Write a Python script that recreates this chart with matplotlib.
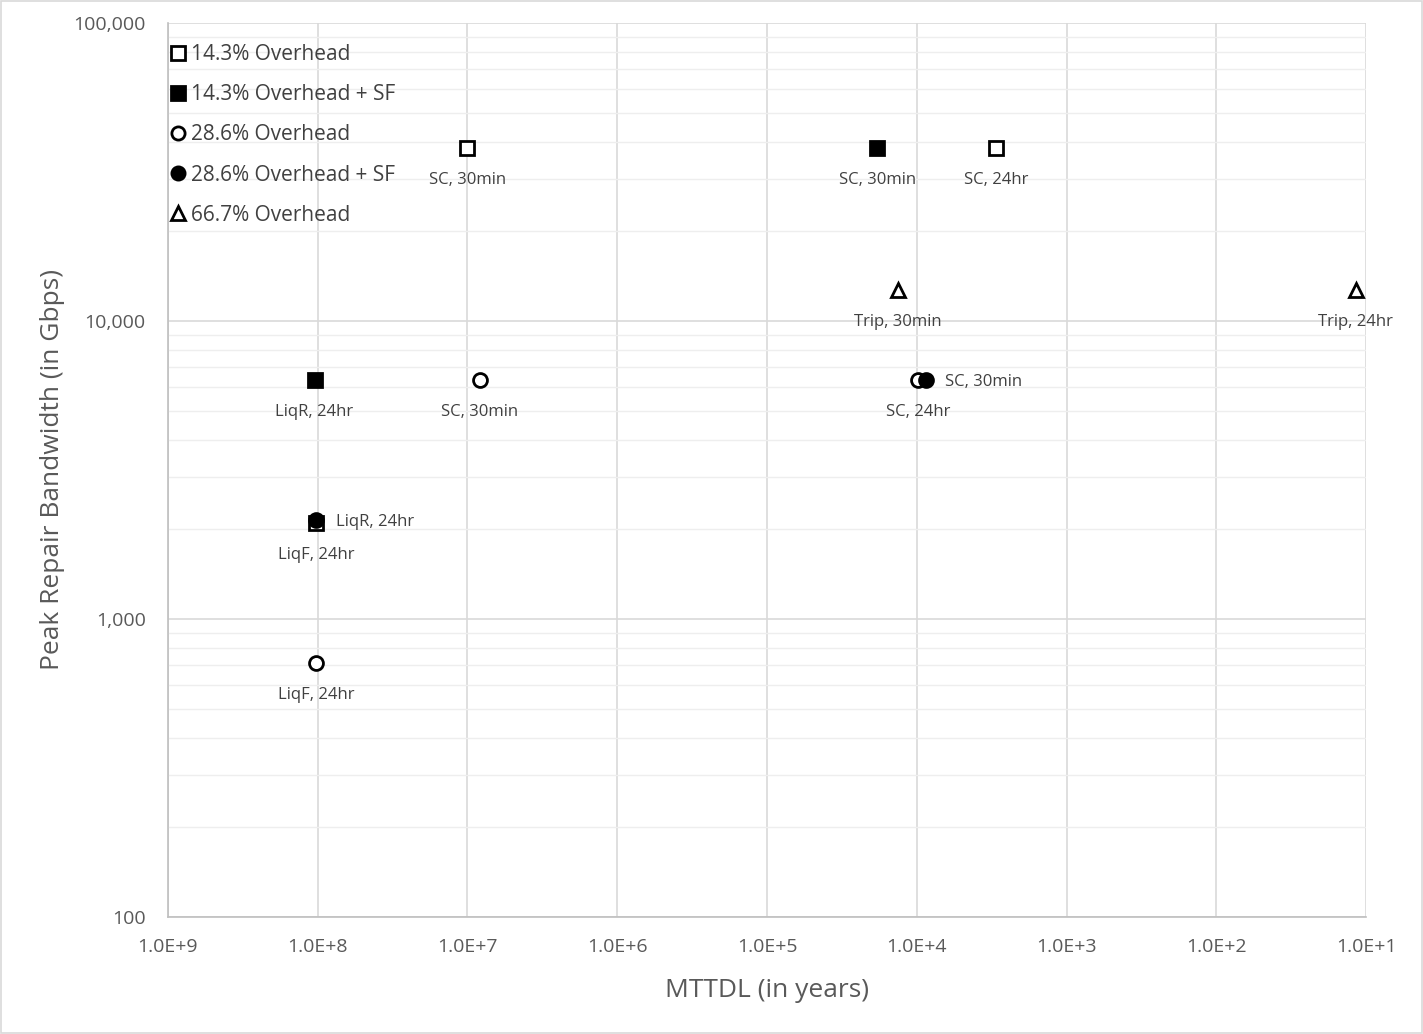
import numpy as np
import matplotlib.pyplot as plt
from matplotlib.ticker import FixedLocator, FuncFormatter, LogLocator, NullFormatter

plt.rcParams['font.family'] = ['Open Sans', 'DejaVu Sans']

# series: MTTDL (years), peak repair bandwidth (Gbps), point labels
sq_open_x = [1.0e7, 2.95e3, 1.02e8]
sq_open_y = [38000, 38000, 2100]
sq_open_lab = ['SC, 30min', 'SC, 24hr', 'LiqF, 24hr']

sq_fill_x = [1.84e4, 1.05e8]
sq_fill_y = [38000, 6340]
sq_fill_lab = ['SC, 30min', 'LiqR, 24hr']

ci_open_x = [8.26e6, 9.77e3, 1.03e8]
ci_open_y = [6340, 6340, 712]
ci_open_lab = ['SC, 30min', 'SC, 24hr', 'LiqF, 24hr']

ci_fill_x = [8.67e3, 1.02e8]
ci_fill_y = [6340, 2150]
ci_fill_lab = ['SC, 30min', 'LiqR, 24hr']

tri_x = [1.33e4, 11.7]
tri_y = [12700, 12700]
tri_lab = ['Trip, 30min', 'Trip, 24hr']

x_ticks = [1e9, 1e8, 1e7, 1e6, 1e5, 1e4, 1e3, 1e2, 1e1]

fig = plt.figure(figsize=(14.23, 10.34), dpi=100)
ax = fig.add_axes([0.118, 0.1132, 0.842, 0.8646])

ms = 10
mew = 2
ax.plot(sq_open_x, sq_open_y, 's', ms=ms, mfc='white', mec='black', mew=mew,
        label='14.3% Overhead', zorder=3)
ax.plot(sq_fill_x, sq_fill_y, 's', ms=ms, mfc='black', mec='black', mew=mew,
        label='14.3% Overhead + SF', zorder=3)
ax.plot(ci_open_x, ci_open_y, 'o', ms=ms, mfc='white', mec='black', mew=mew,
        label='28.6% Overhead', zorder=3)
ax.plot(ci_fill_x, ci_fill_y, 'o', ms=ms, mfc='black', mec='black', mew=mew,
        label='28.6% Overhead + SF', zorder=4)
ax.plot(tri_x, tri_y, '^', ms=ms, mfc='white', mec='black', mew=mew,
        label='66.7% Overhead', zorder=3)

lab_kw = dict(fontsize=12, color='#404040', textcoords='offset points')


def below(xs, ys, labs):
    for x, y, s in zip(xs, ys, labs):
        ax.annotate(s, (x, y), xytext=(0, -17), ha='center', va='top', **lab_kw)


def right(x, y, s):
    ax.annotate(s, (x, y), xytext=(14, 0), ha='left', va='center_baseline', **lab_kw)


below(sq_open_x, sq_open_y, sq_open_lab)
below(sq_fill_x, sq_fill_y, sq_fill_lab)
below(ci_open_x, ci_open_y, ci_open_lab)
right(ci_fill_x[0], ci_fill_y[0], ci_fill_lab[0])
right(ci_fill_x[1], ci_fill_y[1], ci_fill_lab[1])
below(tri_x, tri_y, tri_lab)

ax.set_xscale('log')
ax.set_yscale('log')
ax.set_xlim(1e9, 1e1)
ax.set_ylim(100, 100000)

ax.xaxis.set_major_locator(FixedLocator(x_ticks))
ax.xaxis.set_minor_locator(FixedLocator([]))
ax.xaxis.set_major_formatter(FuncFormatter(lambda v, p: '1.0E+%d' % round(np.log10(v))))
ax.yaxis.set_major_locator(FixedLocator([100, 1000, 10000, 100000]))
ax.yaxis.set_major_formatter(FuncFormatter(lambda v, p: '{:,.0f}'.format(v)))
ax.yaxis.set_minor_locator(LogLocator(base=10, subs=np.arange(2, 10)))
ax.yaxis.set_minor_formatter(NullFormatter())

ax.grid(True, which='major', color='#d9d9d9', lw=1.2)
ax.grid(True, which='minor', axis='y', color='#eeeeee', lw=1)
ax.set_axisbelow(True)

for s in ['top', 'right']:
    ax.spines[s].set_visible(False)
for s in ['left', 'bottom']:
    ax.spines[s].set_color('#bfbfbf')
    ax.spines[s].set_linewidth(1.2)

ax.tick_params(which='both', length=0, labelsize=14, labelcolor='#595959')
ax.tick_params(axis='x', pad=15)
ax.tick_params(axis='y', pad=16)
ax.set_xlabel('MTTDL (in years)', fontsize=19, color='#595959', labelpad=16)
ax.set_ylabel('Peak Repair Bandwidth (in Gbps)', fontsize=19, color='#595959', labelpad=6)

ax.legend(loc='upper left', bbox_to_anchor=(0.0, 0.981), frameon=False, fontsize=15,
          labelcolor='#404040', handletextpad=0.3, handlelength=0.6, labelspacing=0.92,
          borderaxespad=0.0, borderpad=0.2, markerscale=0.95)

fig.patches.append(plt.Rectangle((0.001, 0.001), 0.998, 0.998, transform=fig.transFigure,
                                 fill=False, edgecolor='#d9d9d9', lw=1.2))

fig.savefig('out.png', dpi=100)
